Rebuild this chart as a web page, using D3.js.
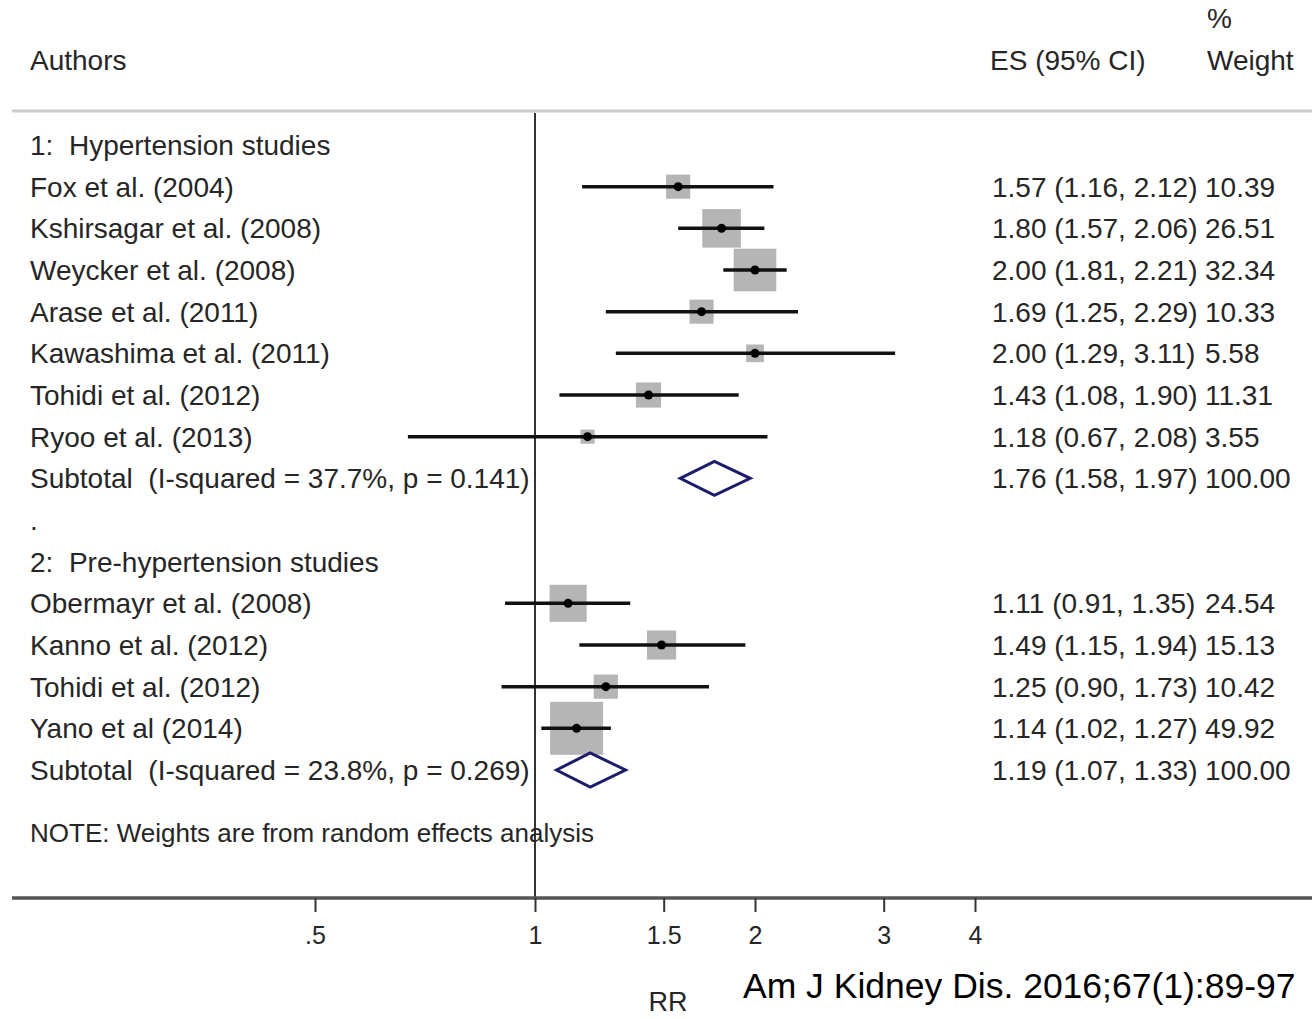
<!DOCTYPE html>
<html>
<head>
<meta charset="utf-8">
<script src="https://cdn.jsdelivr.net/npm/d3@7"></script>
<style>
  body { margin: 0; background: #fff; }
  svg { display: block; }
  text { font-family: "Liberation Sans", Arial, sans-serif; fill: #262626; white-space: pre; }
</style>
</head>
<body>
<div id="forest"></div>
<script>
const width = 1312;
const height = 1019;

// Study labels, effect sizes and CIs
const studies = [
  'Fox et al. (2004)', 'Kshirsagar et al. (2008)', 'Weycker et al. (2008)',
  'Arase et al. (2011)', 'Kawashima et al. (2011)', 'Tohidi et al. (2012)',
  'Ryoo et al. (2013)',
  'Obermayr et al. (2008)', 'Kanno et al. (2012)', 'Tohidi et al. (2012)',
  'Yano et al (2014)'
];
const studyRow = [1, 2, 3, 4, 5, 6, 7, 11, 12, 13, 14];
const es = [1.57, 1.80, 2.00, 1.69, 2.00, 1.43, 1.18, 1.11, 1.49, 1.25, 1.14];
const lower = [1.16, 1.57, 1.81, 1.25, 1.29, 1.08, 0.67, 0.91, 1.15, 0.90, 1.02];
const upper = [2.12, 2.06, 2.21, 2.29, 3.11, 1.90, 2.08, 1.35, 1.94, 1.73, 1.27];
const weight = ['10.39', '26.51', '32.34', '10.33', '5.58', '11.31', '3.55',
  '24.54', '15.13', '10.42', '49.92'];

// Subtotals
const subLabels = ['Subtotal  (I-squared = 37.7%, p = 0.141)', 'Subtotal  (I-squared = 23.8%, p = 0.269)'];
const subRow = [8, 15];
const subEs = [1.76, 1.19];
const subLower = [1.58, 1.07];
const subUpper = [1.97, 1.33];
const subWeight = ['100.00', '100.00'];

const groupLabels = ['1:  Hypertension studies', '.', '2:  Pre-hypertension studies'];
const groupRow = [0, 9, 10];

const ticks = [0.5, 1, 1.5, 2, 3, 4];
const tickLabels = ['.5', '1', '1.5', '2', '3', '4'];

const fmt = d3.format('.2f');
const ciText = (e, l, u) => `${fmt(e)} (${fmt(l)}, ${fmt(u)})`;

const x = d3.scaleLog().domain([0.5, 4]).range([315, 975]);
const y = d3.scaleLinear().domain([0, 15]).range([145, 770]);
const boxSize = d3.scaleSqrt().domain([0, 50]).range([0, 53]);

const svg = d3.select('#forest')
  .append('svg')
    .attr('width', width)
    .attr('height', height);

// Header
svg.append('text').attr('x', 30).attr('y', 70).attr('font-size', 28).text('Authors');
svg.append('text').attr('x', 990).attr('y', 70).attr('font-size', 28).text('ES (95% CI)');
svg.append('text').attr('x', 1207).attr('y', 28).attr('font-size', 28).text('%');
svg.append('text').attr('x', 1207).attr('y', 70).attr('font-size', 28).text('Weight');

svg.append('line')
  .attr('x1', 12).attr('x2', width)
  .attr('y1', 111).attr('y2', 111)
  .attr('stroke', '#ccc').attr('stroke-width', 3);

// Null line
svg.append('line')
  .attr('x1', x(1)).attr('x2', x(1))
  .attr('y1', 113).attr('y2', 898)
  .attr('stroke', '#333').attr('stroke-width', 2);

// Group labels
svg.append('g').selectAll('text')
  .data(groupLabels)
  .join('text')
    .attr('x', 30)
    .attr('y', (d, i) => y(groupRow[i]))
    .attr('dy', '0.36em')
    .attr('font-size', 28)
    .text(d => d);

// Study rows
const rows = svg.append('g').selectAll('g')
  .data(studies)
  .join('g');

rows.append('text')
  .attr('x', 30)
  .attr('y', (d, i) => y(studyRow[i]))
  .attr('dy', '0.36em')
  .attr('font-size', 28)
  .text(d => d);

rows.append('rect')
  .attr('x', (d, i) => x(es[i]) - boxSize(+weight[i]) / 2)
  .attr('y', (d, i) => y(studyRow[i]) - boxSize(+weight[i]) / 2)
  .attr('width', (d, i) => boxSize(+weight[i]))
  .attr('height', (d, i) => boxSize(+weight[i]))
  .attr('fill', '#b5b5b5');

rows.append('line')
  .attr('x1', (d, i) => x(lower[i]))
  .attr('x2', (d, i) => x(upper[i]))
  .attr('y1', (d, i) => y(studyRow[i]))
  .attr('y2', (d, i) => y(studyRow[i]))
  .attr('stroke', '#111').attr('stroke-width', 3.5);

rows.append('circle')
  .attr('cx', (d, i) => x(es[i]))
  .attr('cy', (d, i) => y(studyRow[i]))
  .attr('r', 4.5)
  .attr('fill', '#000');

rows.append('text')
  .attr('x', 992)
  .attr('y', (d, i) => y(studyRow[i]))
  .attr('dy', '0.36em')
  .attr('font-size', 28)
  .text((d, i) => ciText(es[i], lower[i], upper[i]));

rows.append('text')
  .attr('x', 1205)
  .attr('y', (d, i) => y(studyRow[i]))
  .attr('dy', '0.36em')
  .attr('font-size', 28)
  .text((d, i) => weight[i]);

// Subtotal rows
const subs = svg.append('g').selectAll('g')
  .data(subLabels)
  .join('g');

subs.append('text')
  .attr('x', 30)
  .attr('y', (d, i) => y(subRow[i]))
  .attr('dy', '0.36em')
  .attr('font-size', 28)
  .text(d => d);

subs.append('path')
  .attr('d', (d, i) => {
    const cy = y(subRow[i]);
    return `M${x(subLower[i])},${cy}L${x(subEs[i])},${cy - 17}L${x(subUpper[i])},${cy}L${x(subEs[i])},${cy + 17}Z`;
  })
  .attr('fill', '#fff')
  .attr('stroke', '#1c1c6b')
  .attr('stroke-width', 3);

subs.append('text')
  .attr('x', 992)
  .attr('y', (d, i) => y(subRow[i]))
  .attr('dy', '0.36em')
  .attr('font-size', 28)
  .text((d, i) => ciText(subEs[i], subLower[i], subUpper[i]));

subs.append('text')
  .attr('x', 1205)
  .attr('y', (d, i) => y(subRow[i]))
  .attr('dy', '0.36em')
  .attr('font-size', 28)
  .text((d, i) => subWeight[i]);

svg.append('text')
  .attr('x', 30).attr('y', y(16.5))
  .attr('dy', '0.36em')
  .attr('font-size', 26)
  .text('NOTE: Weights are from random effects analysis');

// X axis
svg.append('line')
  .attr('x1', 12).attr('x2', width)
  .attr('y1', 898).attr('y2', 898)
  .attr('stroke', '#555').attr('stroke-width', 3.5);

const axis = d3.axisBottom(x)
  .tickValues(ticks)
  .tickFormat((d, i) => tickLabels[i])
  .tickSize(14)
  .tickPadding(14);

const ax = svg.append('g')
  .attr('transform', 'translate(0,898)')
  .call(axis);
ax.select('.domain').remove();
ax.selectAll('.tick line').attr('stroke', '#333').attr('stroke-width', 2);
ax.selectAll('.tick text')
  .attr('font-size', 25)
  .attr('font-family', '"Liberation Sans", Arial, sans-serif')
  .attr('fill', '#333');

svg.append('text')
  .attr('x', 668).attr('y', 1011)
  .attr('text-anchor', 'middle')
  .attr('font-size', 27)
  .text('RR');

svg.append('text')
  .attr('x', 743).attr('y', 998)
  .attr('font-size', 35.5)
  .style('fill', '#000')
  .text('Am J Kidney Dis. 2016;67(1):89-97');
</script>
</body>
</html>
